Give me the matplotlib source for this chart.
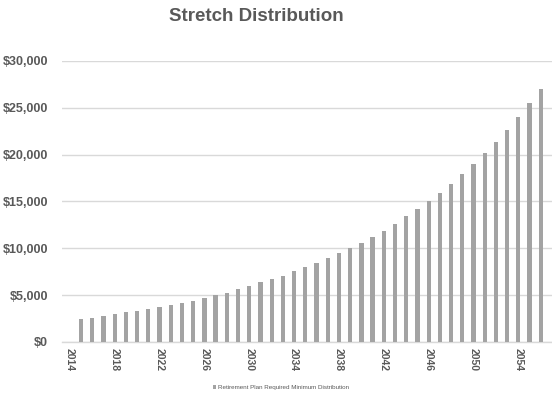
import matplotlib
matplotlib.use("Agg")
import matplotlib.pyplot as plt
from matplotlib.ticker import FuncFormatter

plt.rcParams['font.family'] = ['Liberation Sans', 'DejaVu Sans']

# values (2014 has no bar)
years = list(range(2014, 2057))
rmd = [0, 2450, 2590, 2800, 2990, 3160, 3340, 3520, 3690, 3980, 4160,
       4400, 4690, 4980, 5270, 5620, 6010, 6360, 6680, 7080, 7540,
       7960, 8420, 8950, 9490, 10020, 10590, 11230, 11870, 12580, 13430,
       14210, 15000, 15920, 16920, 17910, 18980, 20150, 21320, 22680, 24020,
       25480, 26970]
yticks = [0, 5000, 10000, 15000, 20000, 25000, 30000]
xticks = list(range(2014, 2057, 4))
series_name = "Retirement Plan Required Minimum Distribution"

txt = "#595959"
grid = "#d9d9d9"

fig = plt.figure(figsize=(5.52, 3.93), dpi=100)
ax = fig.add_axes([0.1123, 0.1298, 0.8877, 0.715])

ax.bar(years, rmd, width=0.38, color="#a3a3a3", label=series_name, zorder=3)

ax.set_xlim(2013.3, 2057.0)
ax.set_ylim(0, 30000)
ax.set_yticks(yticks)
ax.yaxis.set_major_formatter(FuncFormatter(lambda v, p: "${:,.0f}".format(v)))
ax.set_xticks(xticks)
ax.set_xticklabels([str(y) for y in xticks], rotation=270)

ax.grid(axis="y", color=grid, linewidth=1.0, zorder=0)
for s in ["top", "right", "left"]:
    ax.spines[s].set_visible(False)
ax.spines["bottom"].set_color(grid)
ax.spines["bottom"].set_linewidth(1.0)

ax.tick_params(axis="y", length=0, pad=10, labelsize=9, labelcolor=txt)
ax.tick_params(axis="x", length=0, pad=4, labelsize=7.5, labelcolor=txt)
for lab in ax.get_yticklabels() + ax.get_xticklabels():
    lab.set_fontweight("bold")

fig.text(0.464, 0.959, "Stretch Distribution", ha="center", va="center",
         fontsize=13.5, fontweight="bold", color=txt)

fig.legend(loc="center", bbox_to_anchor=(0.509, 0.014), frameon=False,
           fontsize=4.5, handlelength=0.6, handleheight=0.6, handletextpad=0.3,
           labelcolor=txt)

fig.savefig("out.png", dpi=100)
